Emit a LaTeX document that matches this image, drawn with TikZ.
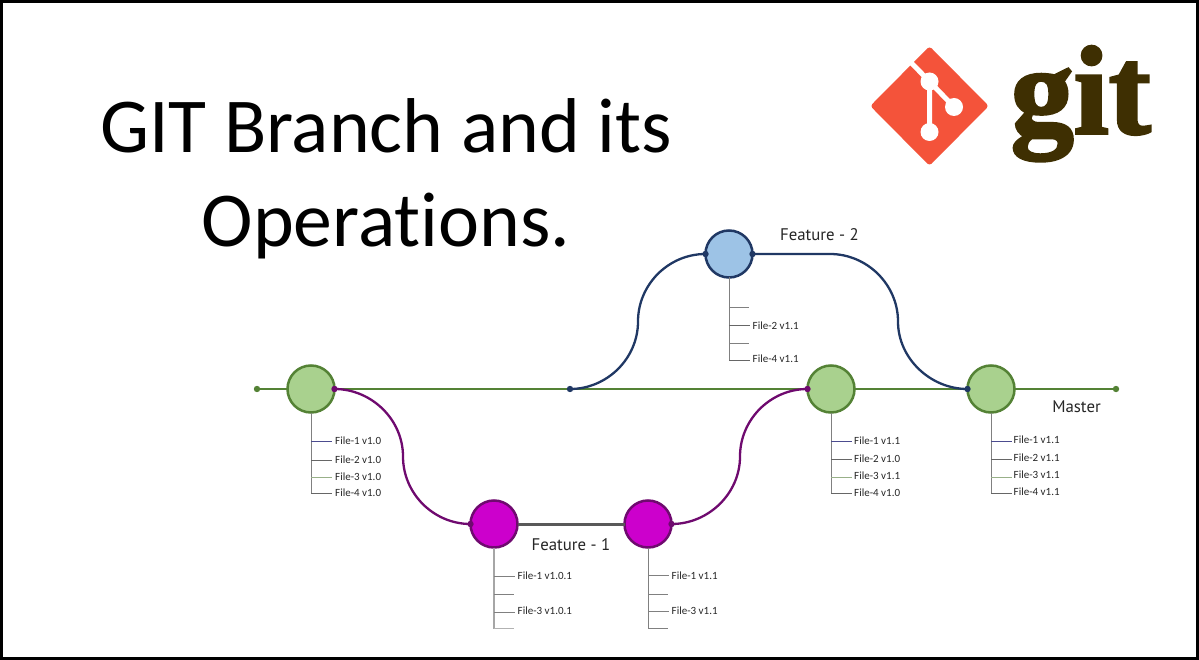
\documentclass[tikz,border=0pt]{standalone}
\usepackage{fontspec}
\usetikzlibrary{calc}
\setmainfont{Carlito}
\newfontfamily\labelfont{PT Sans}
\newfontfamily\gitfont[BoldFeatures={FakeBold=2.2}]{Liberation Serif}
\definecolor{mgreen}{HTML}{548235}
\definecolor{lgreen}{HTML}{A9D18E}
\definecolor{mpurple}{HTML}{6F0A6F}
\definecolor{lpurple}{HTML}{CC00CC}
\definecolor{mblue}{HTML}{203864}
\definecolor{lblue}{HTML}{9DC3E6}
\definecolor{gitred}{HTML}{F4533A}
\definecolor{gitbrown}{HTML}{3E2F02}
\tikzset{
  commit/.style={circle,minimum size=47pt,inner sep=0pt,outer sep=0pt,line width=2.5pt},
  greencommit/.style={commit,draw=mgreen,fill=lgreen},
  purplecommit/.style={commit,draw=mpurple,fill=lpurple},
  bluecommit/.style={commit,draw=mblue,fill=lblue},
  masterline/.style={draw=mgreen,line width=2.5pt},
  purpleline/.style={draw=mpurple,line width=2.3pt},
  blueline/.style={draw=mblue,line width=2.3pt},
  treeline/.style={draw=black!50,line width=1pt},
  filetext/.style={inner sep=0pt,anchor=west,font=\fontsize{11}{12}\selectfont,text=black!85},
  branchlabel/.style={inner sep=0pt,font=\labelfont\fontsize{16.8}{18}\selectfont,text=black!85},
}
% \filebranch{id}{x of trunk}{y}{text x}{text y}{text}{colour}
\newcommand{\filebranch}[7]{%
  \coordinate (#1a) at (#2,#3);
  \coordinate (#1b) at (#2+20.5,#3);
  \draw[treeline,draw=#7] (#1a) -- (#1b);
  \node[filetext] (#1t) at (#4,#5) {#6};
}
\begin{document}
\begin{tikzpicture}[x=1pt,y=-1pt]
\useasboundingbox (0,0) rectangle (1199,660);
\draw[fill=white,draw=black,line width=3pt] (1.5,1.5) rectangle (1197.5,658.5);

% title
\node[inner sep=0pt,align=center,font=\fontsize{77.7}{94}\selectfont] (title) at (386,179) {GIT Branch and its\\Operat\kern0pt ions.};

% logo
\coordinate (d1) at (870.5,106);
\coordinate (d2) at (929.5,46.5);
\coordinate (d3) at (988.5,106);
\coordinate (d4) at (929.5,165.5);
\fill[gitred,draw=gitred,line width=6pt,line join=round] ($(d1)+(4,0)$) -- ($(d2)+(0,4)$) -- ($(d3)+(-4,0)$) -- ($(d4)+(0,-4)$) -- cycle;
\node[circle,fill=white,minimum size=18pt,inner sep=0pt] (g1) at (929.5,81.5) {};
\node[circle,fill=white,minimum size=18pt,inner sep=0pt] (g2) at (954,107) {};
\node[circle,fill=white,minimum size=18pt,inner sep=0pt] (g3) at (929.5,132) {};
\coordinate (g0) at (910,61.5);
\draw[white,line width=5pt] (g0) -- (g1.center) -- (g3.center);
\draw[white,line width=5pt] (g1.center) -- (g2.center);
\node[inner sep=0pt,anchor=base west,text=gitbrown,font=\gitfont\bfseries\fontsize{126}{126}\selectfont] (gittext) at (1010.5,133.5) {git};

% commits
\coordinate (mstart) at (257,389);
\coordinate (mend) at (1116,389);
\coordinate (bstart) at (570,389);
\draw[masterline] (mstart) -- (mend);
\node[greencommit] (m1) at (311,389) {};
\node[greencommit] (m2) at (831,389) {};
\node[greencommit] (m3) at (991,389) {};
\node[purplecommit] (p1) at (494,524) {};
\node[purplecommit] (p2) at (648,524) {};
\node[bluecommit] (b1) at (729,254) {};

% feature 1
\coordinate (pm1) at (403,456.5);
\coordinate (pm2) at (740,456.5);
\draw[purpleline] (m1.east) .. controls +(37,0) and +(0,-37) .. (pm1) .. controls +(0,37) and +(-37,0) .. (p1.west);
\draw[purpleline] (p2.east) .. controls +(37,0) and +(0,37) .. (pm2) .. controls +(0,-37) and +(-37,0) .. (m2.west);
\draw[draw=black!65,line width=3pt] (p1.east) -- (p2.west);

% feature 2
\coordinate (bm1) at (638,321.5);
\coordinate (bh) at (830,254);
\coordinate (bm2) at (898,321.5);
\draw[blueline] (bstart) .. controls +(37,0) and +(0,37) .. (bm1) .. controls +(0,-37) and +(-37,0) .. (b1.west);
\draw[blueline] (b1.east) -- (bh) .. controls +(37,0) and +(0,-37) .. (bm2) .. controls +(0,37) and +(-37,0) .. (m3.west);

% end dots
\fill[mgreen] (mstart) circle (3.2pt);
\fill[mgreen] (mend) circle (3.2pt);
\fill[mblue] (bstart) circle (3.2pt);
\fill[mpurple] (m1.east) circle (3.2pt);
\fill[mpurple] (p1.west) circle (3.2pt);
\fill[mpurple] (p2.east) circle (3.2pt);
\fill[mpurple] (m2.west) circle (3.2pt);
\fill[mblue] (b1.west) circle (3.2pt);
\fill[mblue] (b1.east) circle (3.2pt);
\fill[mblue] (m3.west) circle (3.2pt);

% branch labels
\node[branchlabel] (l1) at (571,544.5) {Feature - 1};
\node[branchlabel] (l2) at (819.5,234.5) {Feature - 2};
\node[branchlabel] (l3) at (1076.5,406.5) {Master};

% m1 tree
\coordinate (m1e) at (311,493);
\draw[treeline] (m1.south) -- (m1e);
\filebranch{ma}{311}{441}{335}{441}{File-1 v1.0}{black!35!blue!40!gray}
\filebranch{mb}{311}{460}{335}{460}{File-2 v1.0}{black!60}
\filebranch{mc}{311}{477}{335}{477}{File-3 v1.0}{lgreen!60!gray}
\filebranch{md}{311}{493}{335}{493}{File-4 v1.0}{black!60}

% m2 tree
\coordinate (n1e) at (831,493);
\draw[treeline] (m2.south) -- (n1e);
\filebranch{na}{831}{441}{854}{440.5}{File-1 v1.1}{black!35!blue!40!gray}
\filebranch{nb}{831}{459}{854}{459}{File-2 v1.0}{black!60}
\filebranch{nc}{831}{477}{854}{476}{File-3 v1.1}{lgreen!60!gray}
\filebranch{nd}{831}{493}{854}{492.5}{File-4 v1.0}{black!60}

% m3 tree
\coordinate (o1e) at (991,493);
\draw[treeline] (m3.south) -- (o1e);
\filebranch{oa}{991}{441}{1013.5}{439.5}{File-1 v1.1}{black!35!blue!40!gray}
\filebranch{ob}{991}{459}{1013.5}{458}{File-2 v1.1}{black!60}
\filebranch{oc}{991}{477}{1013.5}{475}{File-3 v1.1}{lgreen!60!gray}
\filebranch{od}{991}{493}{1013.5}{491.5}{File-4 v1.1}{black!60}

% p1 tree
\coordinate (p1e) at (494,628.5);
\draw[treeline,draw=black!35,line width=1.6pt] (p1.south) -- (p1e);
\filebranch{pa}{494}{576}{517.5}{576}{File-1 v1.0.1}{black!50}
\coordinate (pba) at (494,594); \coordinate (pbb) at (514,594);
\draw[treeline] (pba) -- (pbb);
\filebranch{pc}{494}{612}{517.5}{611}{File-3 v1.0.1}{black!50}
\coordinate (pda) at (494,628.5); \coordinate (pdb) at (514,628.5);
\draw[treeline,draw=black!30,line width=1.4pt] (pda) -- (pdb);

% p2 tree
\coordinate (q1e) at (648,628);
\draw[treeline] (p2.south) -- (q1e);
\filebranch{qa}{648}{575}{671.5}{575.5}{File-1 v1.1}{black!50}
\coordinate (qba) at (648,594); \coordinate (qbb) at (668,594);
\draw[treeline] (qba) -- (qbb);
\filebranch{qc}{648}{611}{671.5}{611}{File-3 v1.1}{black!50}
\coordinate (qda) at (648,628); \coordinate (qdb) at (668,628);
\draw[treeline] (qda) -- (qdb);

% b1 tree
\coordinate (r1e) at (729,360);
\draw[treeline] (b1.south) -- (r1e);
\coordinate (raa) at (729,307); \coordinate (rab) at (749,307);
\draw[treeline] (raa) -- (rab);
\filebranch{rb}{729}{325}{752.5}{325.5}{File-2 v1.1}{black!60}
\coordinate (rca) at (729,343); \coordinate (rcb) at (749,343);
\draw[treeline] (rca) -- (rcb);
\filebranch{rd}{729}{360}{752.5}{359}{File-4 v1.1}{black!60}
\end{tikzpicture}
\end{document}
